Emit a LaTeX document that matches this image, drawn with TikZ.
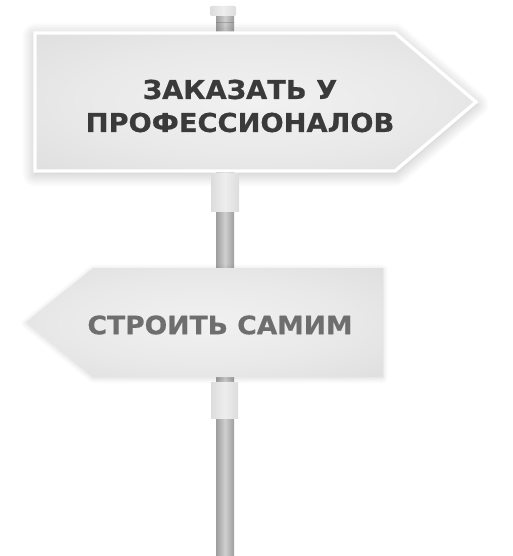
\documentclass[tikz,border=0pt]{standalone}
\usepackage{fontspec}
\newfontfamily\signfont[FakeStretch=1.05,FakeBold=0.6]{DejaVu Sans}
\usetikzlibrary{shadows.blur}
\definecolor{poledark}{HTML}{9E9E9E}
\definecolor{polelight}{HTML}{CFCFCF}
\definecolor{sleevecol}{HTML}{DCDCDC}
\definecolor{sleevelight}{HTML}{EEEEEE}
\definecolor{boardin}{HTML}{F1F1F1}
\definecolor{boardout}{HTML}{D6D6D6}
\definecolor{textdark}{HTML}{3A3A3A}
\definecolor{textgray}{HTML}{6E6E6E}
\pgfdeclareradialshading{boardglow}{\pgfpoint{0bp}{0bp}}{%
  color(0bp)=(boardin); color(20bp)=(boardin!70!boardout);
  color(50bp)=(boardout)}
\begin{document}
\begin{tikzpicture}[x=0.75pt,y=-0.75pt,
    pole/.style={left color=poledark,right color=poledark,middle color=polelight},
    sleeve/.style={left color=sleevecol,right color=sleevecol,middle color=sleevelight},
    board/.style={shading=boardglow},
    boardshadow/.style={blur shadow={shadow blur steps=12,shadow xshift=0pt,
        shadow yshift=-2pt,shadow blur radius=10pt,shadow opacity=28}},
    signtext/.style={font=\signfont\bfseries,align=center}]
  \useasboundingbox (0,0) rectangle (512,556);
  \shade[pole] (216,14) rectangle (234,556);
  \shade[sleeve,rounded corners=1pt] (210,6) rectangle (236,16);
  \shade[board,boardshadow,draw=white,line width=2.5pt]
    (35,33) -- (395,33) -- (476,102) -- (395,171) -- (35,171) -- cycle;
  \shade[sleeve] (211,173) rectangle (239,211);
  \shade[board,blur shadow={shadow blur steps=8,shadow xshift=0pt,
        shadow yshift=-1pt,shadow blur radius=4pt,shadow opacity=15}]
    (26,322) -- (93,268) -- (383,268) -- (383,377) -- (93,377) -- cycle;
  \shade[sleeve] (211,382) rectangle (238,418);
  \node[signtext,text=textdark,font=\signfont\bfseries\fontsize{19.5}{24.75}\selectfont]
    (order) at (240,106) {ЗАКАЗАТЬ У\\ПРОФЕССИОНАЛОВ};
  \node[signtext,text=textgray,font=\signfont\bfseries\fontsize{19}{22}\selectfont]
    (diy) at (220,325) {СТРОИТЬ САМИМ};
\end{tikzpicture}
\end{document}
